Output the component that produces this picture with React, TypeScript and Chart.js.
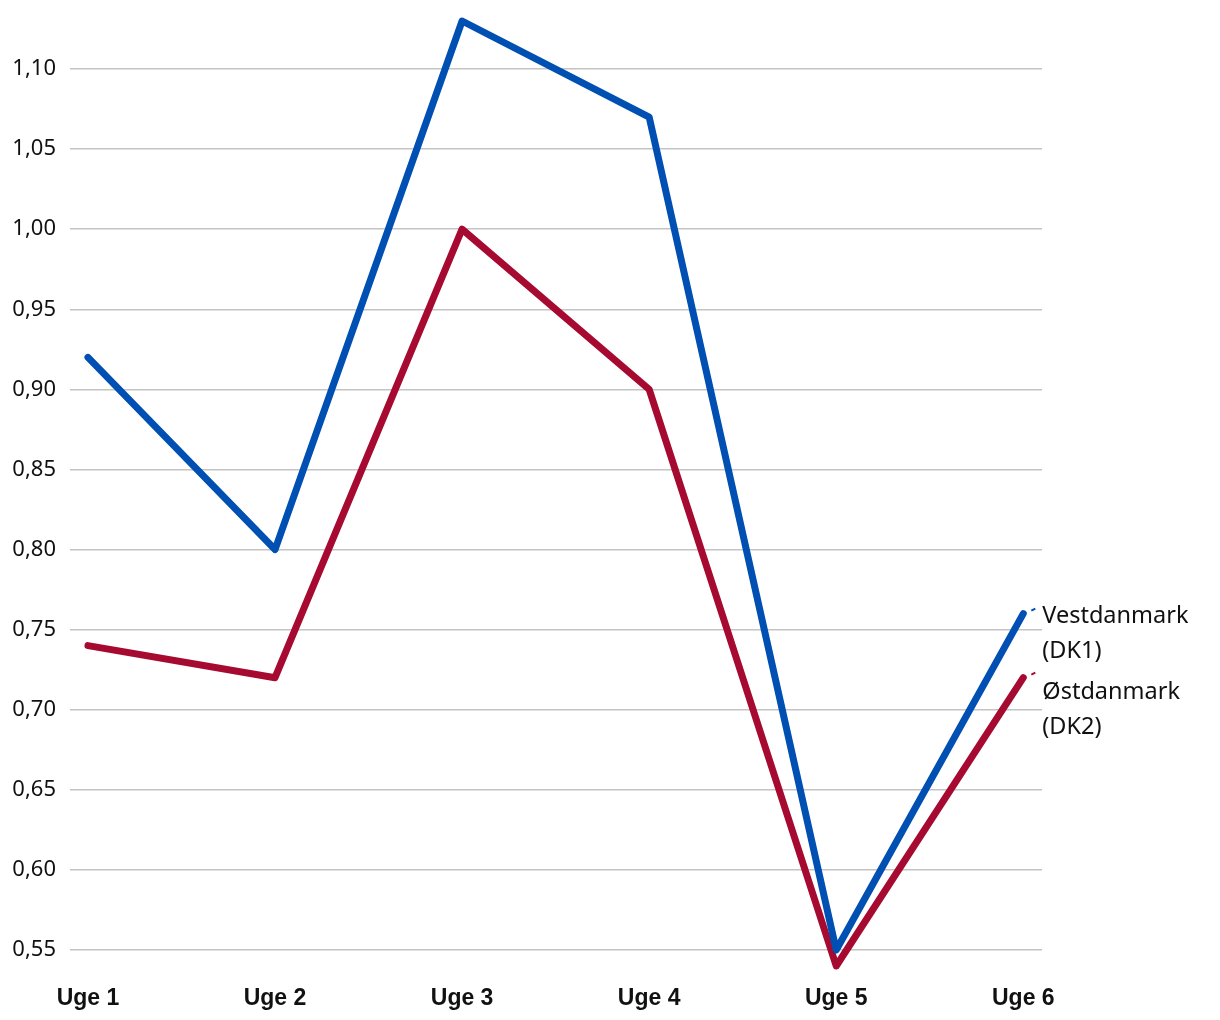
import React, { useEffect, useRef } from "react";
import { Chart, registerables } from "chart.js";

Chart.register(...registerables);

const categories = ["Uge 1", "Uge 2", "Uge 3", "Uge 4", "Uge 5", "Uge 6"];
const dk1Values = [0.92, 0.8, 1.13, 1.07, 0.55, 0.76];
const dk2Values = [0.74, 0.72, 1.0, 0.9, 0.54, 0.72];
const yTickValues = [0.55, 0.6, 0.65, 0.7, 0.75, 0.8, 0.85, 0.9, 0.95, 1.0, 1.05, 1.1];
const seriesLabels = [["Vestdanmark", "(DK1)"], ["Østdanmark", "(DK2)"]];

const BLUE = "#004fb2";
const RED = "#a60a30";

const endLabels = {
  id: "endLabels",
  afterDatasetsDraw(chart: any) {
    const ctx = chart.ctx;
    const colors = [BLUE, RED];
    ctx.save();
    ctx.font = "23.5px 'Noto Sans'";
    ctx.textAlign = "left";
    ctx.textBaseline = "middle";
    let nextMin = -Infinity;
    chart.data.datasets.forEach((ds: any, i: number) => {
      const meta = chart.getDatasetMeta(i);
      const pt = meta.data[meta.data.length - 1];
      const px = pt.x;
      const py = pt.y;
      ctx.strokeStyle = colors[i];
      ctx.lineWidth = 2;
      ctx.beginPath();
      ctx.moveTo(px + 8, py - 3);
      ctx.lineTo(px + 12, py - 5);
      ctx.stroke();
      ctx.fillStyle = "#111";
      const lines = seriesLabels[i];
      const x0 = px + 19;
      const y0 = Math.max(py + 3, nextMin);
      lines.forEach((t, j) => {
        ctx.fillText(t, x0, y0 + j * 35);
      });
      nextMin = y0 + (lines.length - 1) * 35 + 41;
    });
    ctx.restore();
  },
};

export default function App() {
  const ref = useRef<HTMLCanvasElement | null>(null);
  useEffect(() => {
    if (!ref.current) return;
    const chart = new Chart(ref.current, {
      type: "line",
      data: {
        datasets: [
          {
            label: "Vestdanmark (DK1)",
            data: dk1Values.map((v, i) => ({ x: i, y: v })),
            borderColor: BLUE,
            borderWidth: 7,
            pointRadius: 0,
            tension: 0,
            borderJoinStyle: "round",
            borderCapStyle: "round",
            clip: false,
          },
          {
            label: "Østdanmark (DK2)",
            data: dk2Values.map((v, i) => ({ x: i, y: v })),
            borderColor: RED,
            borderWidth: 7,
            pointRadius: 0,
            tension: 0,
            borderJoinStyle: "round",
            borderCapStyle: "round",
            clip: false,
          },
        ],
      },
      options: {
        animation: false,
        responsive: false,
        maintainAspectRatio: false,
        layout: { padding: { top: 21, right: 178, left: 0, bottom: 0 } },
        plugins: { legend: { display: false }, tooltip: { enabled: false } },
        scales: {
          x: {
            type: "linear",
            min: -0.096,
            max: 5.1,
            grid: { display: false, drawTicks: false },
            border: { display: false },
            afterBuildTicks: (scale: any) => {
              scale.ticks = categories.map((_, i) => ({ value: i }));
            },
            afterFit: (scale: any) => {
              scale.height = 54;
              scale.paddingLeft = 0;
              scale.paddingRight = 0;
            },
            ticks: {
              padding: 19,
              color: "#111",
              font: { family: "'Liberation Sans', Arial", size: 23, weight: "bold" },
              maxRotation: 0,
              autoSkip: false,
              callback: (v: any) => categories[Math.round(Number(v))] ?? "",
            },
          },
          y: {
            type: "linear",
            min: 0.54,
            max: 1.13,
            grid: { color: "#c4c4c4", lineWidth: 1.5, drawTicks: false },
            border: { display: false },
            afterBuildTicks: (scale: any) => {
              scale.ticks = yTickValues.map((v) => ({ value: v }));
            },
            afterFit: (scale: any) => {
              scale.width = 70;
              scale.paddingTop = 0;
              scale.paddingBottom = 0;
            },
            ticks: {
              padding: 14,
              color: "#111",
              font: { family: "'Noto Sans'", size: 22 },
              callback: (v: any) => Number(v).toFixed(2).replace(".", ","),
            },
          },
        },
      },
      plugins: [endLabels],
    } as any);
    return () => chart.destroy();
  }, []);
  return (
    <div style={{ position: "absolute", left: 0, top: 0, width: 1220, height: 1020, background: "#fff" }}>
      <canvas ref={ref} width={1220} height={1020} style={{ width: 1220, height: 1020 }} />
    </div>
  );
}
